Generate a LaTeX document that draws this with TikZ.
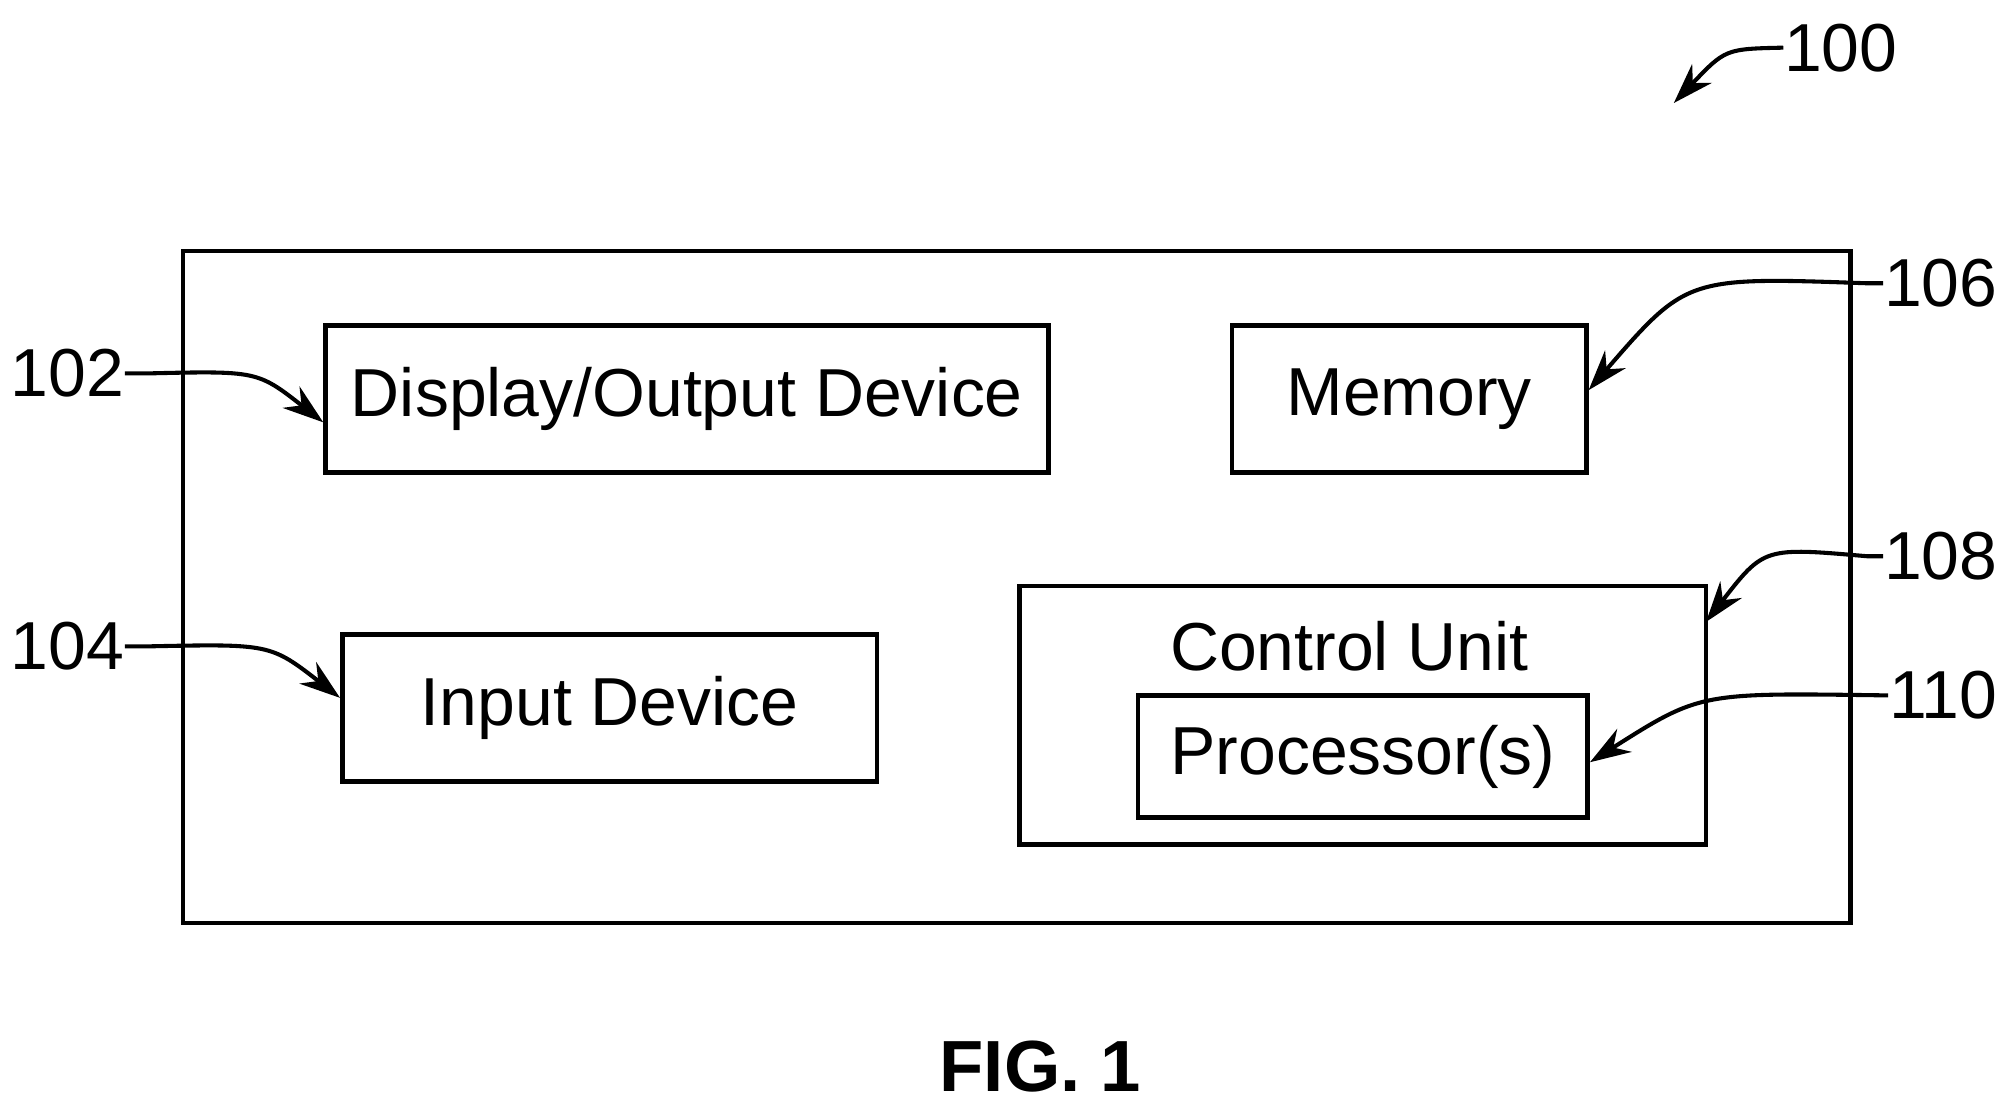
\documentclass[tikz,border=0pt]{standalone}
\usepackage{fontspec}
\setmainfont{Liberation Sans}
\usetikzlibrary{arrows.meta}

\begin{document}
\begin{tikzpicture}[x=0.01cm,y=-0.01cm,
  box/.style={draw,line width=1pt,inner sep=0pt,font=\fontsize{15}{17}\selectfont},
  lbl/.style={font=\fontsize{15}{17}\selectfont,inner sep=0pt},
  ref/.style={line width=0.9pt,-{Stealth[length=9pt,width=6pt]}}]
\useasboundingbox (0,0) rectangle (1558,857);

\draw[line width=1pt] (142,195) rectangle (1437,717);
\node[box,minimum width=5.61cm,minimum height=1.14cm] (disp) at (533.5,310) {Display/Output Device};
\node[box,minimum width=2.75cm,minimum height=1.14cm] (mem) at (1094.5,310) {Memory};
\node[box,minimum width=4.15cm,minimum height=1.14cm] (inp) at (473.5,550) {Input Device};
\draw[line width=1pt] (792,455) rectangle (1325,656);
\node[lbl] (ctrl) at (1048,502) {Control Unit};
\node[box,minimum width=3.49cm,minimum height=0.95cm] (proc) at (1058.5,587.5) {Processor(s)};

% reference numerals
\node[lbl,anchor=west] (n100) at (1385,37) {100};
\node[lbl,anchor=east] (n102) at (97,290) {102};
\node[lbl,anchor=east] (n104) at (97,502) {104};
\node[lbl,anchor=east] (n106) at (1552,220) {106};
\node[lbl,anchor=east] (n108) at (1552,432) {108};
\node[lbl,anchor=east] (n110) at (1552,540) {110};

\coordinate (t100) at (1300,80);
\coordinate (t108) at (1325,483);

\draw[ref] (n100.west) .. controls (1340,38) .. (t100);
\draw[ref] (n102.east) -- (115,290) .. controls (200,288) .. (disp.west |- 0,328);
\draw[ref] (n104.east) -- (115,502) .. controls (210,500) .. (inp.west |- 0,542);
\draw[ref] (n106.west) -- (1450,220) .. controls (1310,215) .. (mem.east |- 0,303);
\draw[ref] (n108.west) -- (1450,432) .. controls (1370,425) .. (t108);
\draw[ref] (n110.west) -- (1460,540) .. controls (1320,538) .. (proc.east |- 0,592);

\node[font=\fontsize{16}{18}\selectfont\bfseries,inner sep=0pt] (fig) at (808,828) {FIG. 1};
\end{tikzpicture}
\end{document}
